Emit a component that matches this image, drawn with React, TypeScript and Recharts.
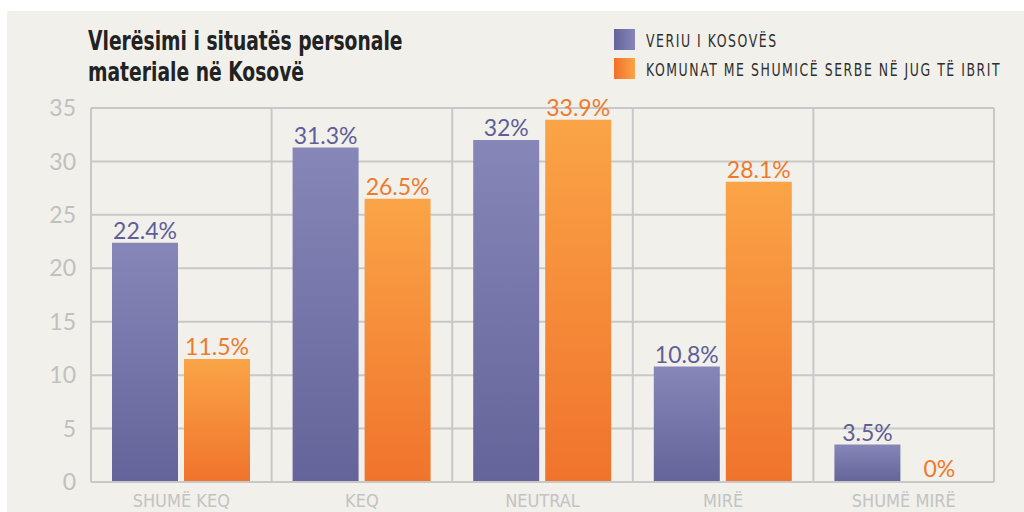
import React from "react"
import { Bar, BarChart, CartesianGrid, LabelList, XAxis, YAxis } from "recharts"

const categories = ["SHUMË KEQ", "KEQ", "NEUTRAL", "MIRË", "SHUMË MIRË"]
const veriu = [22.4, 31.3, 32, 10.8, 3.5]
const jugu = [11.5, 26.5, 33.9, 28.1, 0]
const yTicks = [0, 5, 10, 15, 20, 25, 30, 35]
const seriesNames = ["VERIU I KOSOVËS", "KOMUNAT ME SHUMICË SERBE NË JUG TË IBRIT"]

const data = categories.map((name, i) => ({ name, veriu: veriu[i], jugu: jugu[i] }))

const condensed = '"DejaVu Sans Condensed", "DejaVu Sans", sans-serif'
const numberFont = "Lato, sans-serif"
const gridColor = "#c8c8c8"

const legendSwatches = [
    "linear-gradient(to right, #65649a, #8786b8)",
    "linear-gradient(to right, #f26f2a, #fba447)",
]

function ChartLegend() {
    return (
        <div style={{ position: "absolute", left: 614, top: 29 }}>
            {seriesNames.map((name, i) => (
                <div key={name} style={{ display: "flex", alignItems: "center", height: 21, marginBottom: 8 }}>
                    <span style={{ width: 21, height: 21, background: legendSwatches[i], marginRight: 11, flex: "none" }} />
                    <span
                        style={{
                            fontFamily: condensed,
                            fontSize: 18,
                            letterSpacing: 2,
                            color: "#2e2e2e",
                            whiteSpace: "nowrap",
                            display: "inline-block",
                            transform: "scaleX(0.77)",
                            transformOrigin: "left center",
                            marginTop: 2,
                        }}
                    >
                        {name}
                    </span>
                </div>
            ))}
        </div>
    )
}

export default function App() {
    return (
        <div style={{ position: "absolute", left: 0, top: 0, width: 1024, height: 512, background: "#ffffff", overflow: "hidden" }}>
            <div style={{ position: "absolute", left: 7, top: 11, width: 1017, height: 501, background: "#f1f0eb" }} />
            <div
                style={{
                    position: "absolute",
                    left: 88,
                    top: 26,
                    fontFamily: condensed,
                    fontWeight: 700,
                    fontSize: 26,
                    lineHeight: "31px",
                    color: "#222222",
                    whiteSpace: "nowrap",
                    transform: "scaleX(0.8)",
                    transformOrigin: "left top",
                }}
            >
                Vlerësimi i situatës personale
                <br />
                materiale në Kosovë
            </div>
            <ChartLegend />
            <div style={{ position: "absolute", left: 0, top: 0 }}>
                <BarChart
                    width={1024}
                    height={512}
                    data={data}
                    margin={{ top: 108, right: 30, bottom: 0, left: 0 }}
                    barCategoryGap={21}
                    barGap={6}
                >
                    <defs>
                        <linearGradient id="gradVeriu" x1="0" y1="0" x2="0" y2="1">
                            <stop offset="0%" stopColor="#8786b8" />
                            <stop offset="100%" stopColor="#65649a" />
                        </linearGradient>
                        <linearGradient id="gradJugu" x1="0" y1="0" x2="0" y2="1">
                            <stop offset="0%" stopColor="#faa447" />
                            <stop offset="100%" stopColor="#f0732c" />
                        </linearGradient>
                    </defs>
                    <CartesianGrid
                        stroke={gridColor}
                        strokeWidth={2}
                        verticalCoordinatesGenerator={({ offset }: any) =>
                            [...categories.map((_, i) => i), categories.length].map(
                                (i) => offset.left + (i * offset.width) / categories.length
                            )
                        }
                    />
                    <XAxis
                        dataKey="name"
                        height={30}
                        stroke={gridColor}
                        strokeWidth={2}
                        tickLine={false}
                        tickSize={6}
                        tickMargin={6}
                        tick={{ fill: "#c3c3c3", fontSize: 18, fontFamily: condensed }}
                    />
                    <YAxis
                        width={91}
                        domain={[0, 35]}
                        ticks={yTicks}
                        interval={0}
                        stroke={gridColor}
                        strokeWidth={2}
                        tickLine={false}
                        tickSize={6}
                        tickMargin={9}
                        tick={{ fill: "#c0c0c0", fontSize: 23, fontFamily: numberFont }}
                    />
                    <Bar dataKey="veriu" name={seriesNames[0]} fill="url(#gradVeriu)" minPointSize={1} isAnimationActive={false}>
                        <LabelList
                            dataKey="veriu"
                            position="top"
                            offset={4}
                            formatter={(v: any) => `${v}%`}
                            style={{ fill: "#5f5e98", fontSize: 23, fontFamily: numberFont }}
                        />
                    </Bar>
                    <Bar dataKey="jugu" name={seriesNames[1]} fill="url(#gradJugu)" minPointSize={1} isAnimationActive={false}>
                        <LabelList
                            dataKey="jugu"
                            position="top"
                            offset={4}
                            formatter={(v: any) => `${v}%`}
                            style={{ fill: "#ee7a2c", fontSize: 23, fontFamily: numberFont }}
                        />
                    </Bar>
                </BarChart>
            </div>
        </div>
    )
}
